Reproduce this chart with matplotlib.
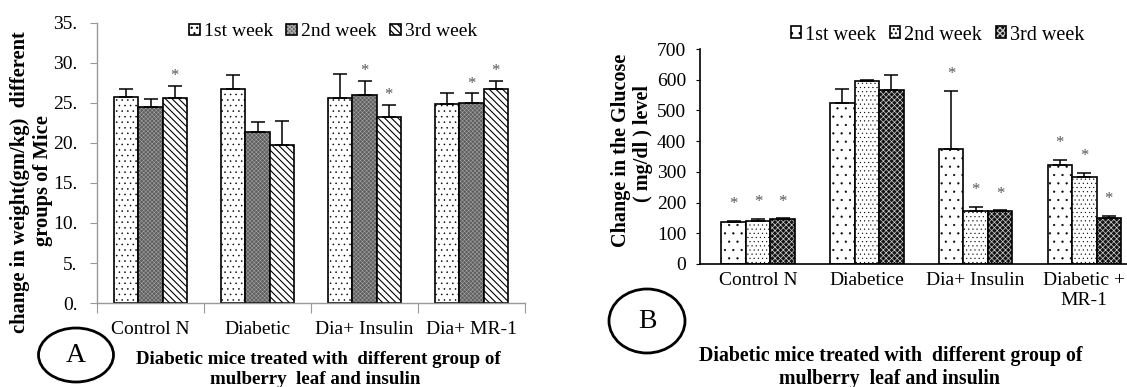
import matplotlib
matplotlib.use('Agg')
import matplotlib.pyplot as plt
import numpy as np
from matplotlib.patches import Ellipse
from matplotlib.legend_handler import HandlerTuple

plt.rcParams['font.family'] = ['Liberation Serif', 'DejaVu Serif']
plt.rcParams['hatch.linewidth'] = 0.9

# ---------------- Panel A data (body weight) ----------------
groups_a = ['Control N', 'Diabetic', 'Dia+ Insulin', 'Dia+ MR-1']
week_labels = ['1st week', '2nd week', '3rd week']
weight_w1 = [25.8, 26.7, 25.6, 24.9]
weight_w2 = [24.5, 21.4, 26.0, 25.0]
weight_w3 = [25.6, 19.8, 23.2, 26.7]
weight_err1 = [0.9, 1.8, 3.0, 1.4]
weight_err2 = [1.0, 1.2, 1.8, 1.2]
weight_err3 = [1.5, 3.0, 1.6, 1.1]
weight_star1 = [False, False, False, False]
weight_star2 = [False, False, True, True]
weight_star3 = [True, False, True, True]
yticks_a = [0, 5, 10, 15, 20, 25, 30, 35]
ytick_labels_a = ['0.', '5.', '10.', '15.', '20.', '25.', '30.', '35.']

# ---------------- Panel B data (glucose) ----------------
groups_b = ['Control N', 'Diabetice', 'Dia+ Insulin', 'Diabetic +\nMR-1']
glu_w1 = [137, 524, 375, 322]
glu_w2 = [140, 596, 173, 283]
glu_w3 = [147, 567, 172, 150]
glu_err1 = [3, 46, 189, 17]
glu_err2 = [7, 2, 13, 13]
glu_err3 = [2, 49, 3, 6]
glu_star1 = [True, False, True, True]
glu_star2 = [True, False, True, True]
glu_star3 = [True, False, True, True]
yticks_b = [0, 100, 200, 300, 400, 500, 600, 700]

W, H = 1127, 387
fig = plt.figure(figsize=(W / 100, H / 100), dpi=100)


def px(x, y):
    return x / W, 1 - y / H


def draw_series(ax, x, vals, errs, stars, width, face, hatch, hcolor, hlw, star_off):
    with plt.rc_context({'hatch.linewidth': hlw}):
        fill = ax.bar(x, vals, width, color=face, hatch=hatch, edgecolor=hcolor, linewidth=0)
        for p in fill:
            if hasattr(p, 'set_hatch_linewidth'):
                p.set_hatch_linewidth(hlw)
    edge = ax.bar(x, vals, width, fill=False, edgecolor='black', linewidth=1.2)
    ax.errorbar(x, vals, yerr=[np.zeros(len(vals)), errs], fmt='none', ecolor='black',
                elinewidth=1.1, capsize=5, capthick=1.1)
    for xi, v, e, s in zip(x, vals, errs, stars):
        if s:
            ax.annotate('*', xy=(xi, v + e), xytext=(0, star_off), textcoords='offset points',
                        ha='center', va='center', fontsize=12, color='#555555')
    return (fill[0], edge[0])


# ---------------- Panel A ----------------
axA = fig.add_axes([97 / W, 1 - 303 / H, 428 / W, 280 / H])
xa = np.arange(len(groups_a))
wa = 0.227
styles_a = [('white', '...', 'black', 0.35),
            ('#5e5e5e', 'xxxxxxxx', '#a8a8a8', 0.35),
            ('white', '\\\\\\\\\\', 'black', 0.8)]
data_a = [(weight_w1, weight_err1, weight_star1), (weight_w2, weight_err2, weight_star2),
          (weight_w3, weight_err3, weight_star3)]
handles_a = []
for i, ((vals, errs, stars), (face, hatch, hc, hlw)) in enumerate(zip(data_a, styles_a)):
    handles_a.append(draw_series(axA, xa + (i - 1) * wa, vals, errs, stars, wa, face, hatch, hc, hlw, 7))
axA.set_xlim(-0.5, len(groups_a) - 0.5)
axA.set_ylim(0, 35)
axA.set_yticks(yticks_a)
axA.set_yticklabels(ytick_labels_a, fontsize=14)
axA.set_xticks(np.arange(len(groups_a) + 1) - 0.5)
axA.set_xticklabels([])
axA.set_xticks(xa, minor=True)
axA.set_xticklabels(groups_a, minor=True, fontsize=14)
axA.tick_params(axis='x', which='minor', length=0, pad=13)
axA.tick_params(axis='x', which='major', length=7, color='#999999', direction='out')
axA.tick_params(axis='y', length=5, color='#999999', pad=9)
for s in ['top', 'right']:
    axA.spines[s].set_visible(False)
for s in ['left', 'bottom']:
    axA.spines[s].set_color('#999999')
    axA.spines[s].set_linewidth(1.0)

fig.legend(handles_a, week_labels, loc='center left', bbox_to_anchor=px(189, 32), ncol=3,
           frameon=False, fontsize=14, handlelength=0.55, handleheight=0.55, handletextpad=0.2,
           columnspacing=0.7, borderpad=0, borderaxespad=0,
           handler_map={tuple: HandlerTuple(ndivide=1)})

fig.text(*px(20, 182), 'change in weight(gm/kg)  different', rotation=90, ha='center', va='center',
         fontsize=14.8, fontweight='bold')
fig.text(*px(43, 181), 'groups of Mice', rotation=90, ha='center', va='center',
         fontsize=14.8, fontweight='bold')
fig.text(*px(318, 359), 'Diabetic mice treated with  different group of', ha='center', va='center',
         fontsize=13.6, fontweight='bold')
fig.text(*px(315, 379), 'mulberry  leaf and insulin', ha='center', va='center',
         fontsize=13.6, fontweight='bold')
fig.add_artist(Ellipse(px(76, 355), 75 / W, 54 / H, transform=fig.transFigure, fill=False,
                       edgecolor='black', linewidth=2))
fig.text(*px(76, 356), 'A', ha='center', va='center', fontsize=20)

# ---------------- Panel B ----------------
axB = fig.add_axes([700 / W, 1 - 264 / H, 435 / W, 215 / H])
xb = np.arange(len(groups_b))
wb = 0.225
styles_b = [('white', '..', 'black', 0.35),
            ('white', '....', 'black', 0.3),
            ('#141414', 'xxxxxx', '#d0d0d0', 0.5)]
data_b = [(glu_w1, glu_err1, glu_star1), (glu_w2, glu_err2, glu_star2),
          (glu_w3, glu_err3, glu_star3)]
handles_b = []
for i, ((vals, errs, stars), (face, hatch, hc, hlw)) in enumerate(zip(data_b, styles_b)):
    handles_b.append(draw_series(axB, xb + (i - 1) * wb, vals, errs, stars, wb, face, hatch, hc, hlw, 12))
axB.set_xlim(-0.534, len(groups_b) - 0.534)
axB.set_ylim(0, 700)
axB.set_yticks(yticks_b)
axB.tick_params(axis='y', labelsize=14, length=3, pad=7)
axB.set_xticks(xb)
axB.set_xticklabels(groups_b, fontsize=14)
axB.tick_params(axis='x', length=0, pad=6)
for s in ['top', 'right']:
    axB.spines[s].set_visible(False)
for s in ['left', 'bottom']:
    axB.spines[s].set_color('black')
    axB.spines[s].set_linewidth(1.2)

fig.legend(handles_b, week_labels, loc='center left', bbox_to_anchor=px(791, 35), ncol=3,
           frameon=False, fontsize=14.5, handlelength=0.5, handleheight=0.55, handletextpad=0.2,
           columnspacing=0.7, borderpad=0, borderaxespad=0,
           handler_map={tuple: HandlerTuple(ndivide=1)})

fig.text(*px(621, 150), 'Change in the Glucose', rotation=90, ha='center', va='center',
         fontsize=14.5, fontweight='bold')
fig.text(*px(643, 143), '( mg/dl ) level', rotation=90, ha='center', va='center',
         fontsize=14.5, fontweight='bold')
fig.text(*px(891, 356), 'Diabetic mice treated with  different group of', ha='center', va='center',
         fontsize=14.3, fontweight='bold')
fig.text(*px(889, 379), 'mulberry  leaf and insulin', ha='center', va='center',
         fontsize=14.3, fontweight='bold')
fig.add_artist(Ellipse(px(647, 321), 76 / W, 64 / H, transform=fig.transFigure, fill=False,
                       edgecolor='black', linewidth=2))
fig.text(*px(647, 322), 'B', ha='center', va='center', fontsize=20)

fig.savefig('out.png', dpi=100)
